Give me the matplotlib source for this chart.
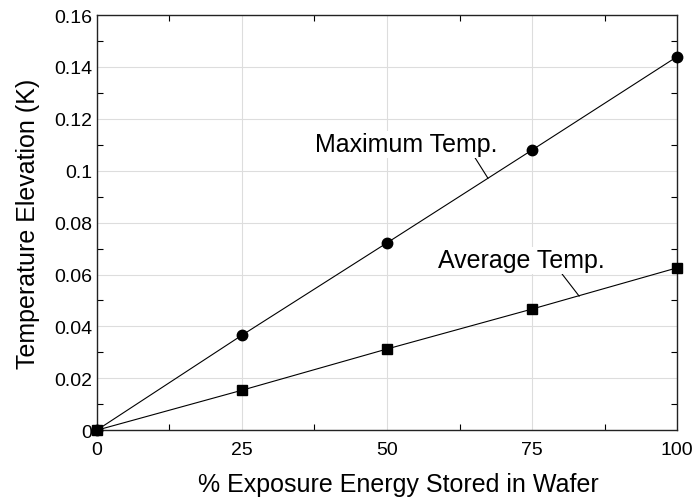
import numpy as np
import matplotlib.pyplot as plt
from matplotlib.ticker import MultipleLocator

plt.rcParams['font.family'] = ['Liberation Sans', 'DejaVu Sans']

# energy fraction stored in the wafer (%)
energy_pct = [0, 25, 50, 75, 100]

# temperature rise (K)
max_temp = [0, 0.0366, 0.0722, 0.1080, 0.1440]
avg_temp = [0, 0.0154, 0.0313, 0.0467, 0.0626]

fig = plt.figure(figsize=(6.96, 5.02), dpi=100)
ax = fig.add_axes([0.139, 0.141, 0.834, 0.827])

ax.plot(energy_pct, max_temp, color='black', linewidth=0.8,
        marker='o', markersize=7.5, clip_on=False, zorder=3)
ax.plot(energy_pct, avg_temp, color='black', linewidth=0.8,
        marker='s', markersize=7, clip_on=False, zorder=4)

ax.set_xlim(0, 100)
ax.set_ylim(0, 0.16)

ax.xaxis.set_major_locator(MultipleLocator(25))
ax.xaxis.set_minor_locator(MultipleLocator(12.5))
ax.yaxis.set_minor_locator(MultipleLocator(0.01))
ax.set_yticks(np.arange(0, 0.161, 0.02))
ax.set_yticklabels(['0', '0.02', '0.04', '0.06', '0.08', '0.1',
                    '0.12', '0.14', '0.16'])

ax.tick_params(which='major', length=0, labelsize=14)
ax.tick_params(axis='x', which='major', pad=8)
ax.tick_params(axis='y', which='major', pad=3)
ax.tick_params(which='minor', direction='in', length=4, width=0.8,
               top=True, right=True, bottom=True, left=True)
ax.grid(True, which='major', color='#dddddd', linewidth=0.8)
ax.set_axisbelow(True)

for sp in ax.spines.values():
    sp.set_linewidth(1.0)
    sp.set_color('#222222')

ax.set_xlabel('% Exposure Energy Stored in Wafer', fontsize=18)
ax.set_ylabel('Temperature Elevation (K)', fontsize=18)
ax.xaxis.set_label_coords(0.519, -0.1)
ax.yaxis.set_label_coords(-0.098, 0.5)

# curve labels with short leader lines
ax.text(37.6, 0.1076, 'Maximum Temp.', fontsize=18, ha='left', va='baseline',
        bbox=dict(facecolor='white', edgecolor='none', pad=1), zorder=5)
ax.plot([65.2, 67.4], [0.1049, 0.0971], color='black', linewidth=0.8)

ax.text(58.8, 0.0628, 'Average Temp.', fontsize=18, ha='left', va='baseline',
        bbox=dict(facecolor='white', edgecolor='none', pad=1), zorder=5)
ax.plot([80.2, 83.1], [0.0601, 0.0517], color='black', linewidth=0.8)

fig.savefig('out.png', dpi=100)
